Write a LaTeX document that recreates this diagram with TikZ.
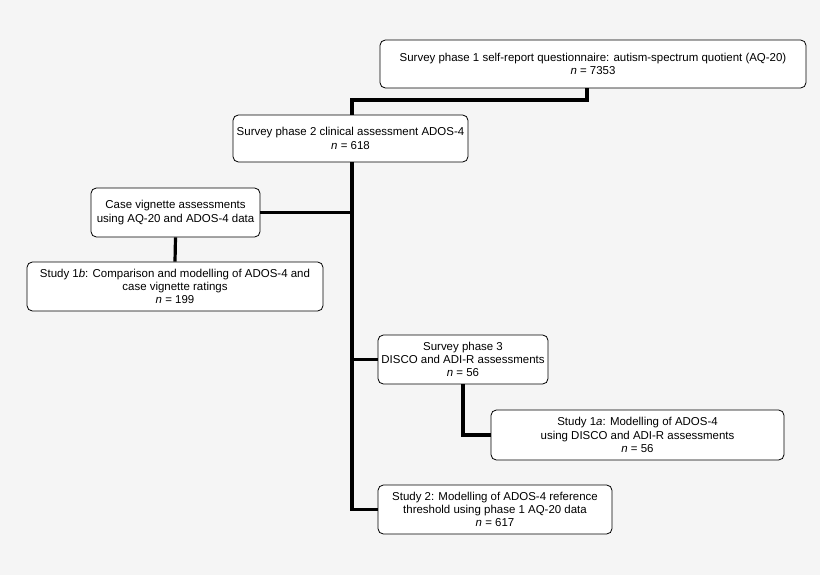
\documentclass[tikz,border=0pt]{standalone}
\usepackage{fontspec}
\setmainfont{Liberation Sans}
\begin{document}
\begin{tikzpicture}[x=0.75pt,y=-0.75pt,
  box/.style={draw=black,line width=0.6pt,fill=white,rounded corners=4pt,align=center,font=\fontsize{8.6}{10}\selectfont,inner sep=0pt},
  conn/.style={line width=2.4pt,line cap=butt}]
\fill[white!96!black] (0,0) rectangle (820,575);
\useasboundingbox (0,0) rectangle (820,575);
\node[box,minimum width=426*0.75pt,minimum height=48*0.75pt] (p1) at (593,64) {Survey phase 1 self-report questionnaire: autism-spectrum quotient (AQ-20)\\ \textit{n} = 7353};
\node[box,minimum width=235*0.75pt,minimum height=47*0.75pt] (p2) at (350.5,138.5) {Survey phase 2 clinical assessment ADOS-4\\ \textit{n} = 618};
\node[box,minimum width=169*0.75pt,minimum height=49*0.75pt] (cv) at (175.5,212.5) {Case vignette assessments\\ using AQ-20 and ADOS-4 data};
\node[box,minimum width=296*0.75pt,minimum height=49*0.75pt] (s1b) at (175,286.5) {Study 1\textit{b}: Comparison and modelling of ADOS-4 and\\ case vignette ratings\\ \textit{n} = 199};
\node[box,minimum width=170*0.75pt,minimum height=49*0.75pt] (p3) at (463,359.5) {Survey phase 3\\ DISCO and ADI-R assessments\\ \textit{n} = 56};
\node[box,minimum width=293*0.75pt,minimum height=50*0.75pt] (s1a) at (637.5,435) {Study 1\textit{a}: Modelling of ADOS-4\\ using DISCO and ADI-R assessments\\ \textit{n} = 56};
\node[box,minimum width=234*0.75pt,minimum height=49*0.75pt] (s2) at (495,509.5) {Study 2: Modelling of ADOS-4 reference\\ threshold using phase 1 AQ-20 data\\ \textit{n} = 617};
\coordinate (j1) at (587,100);
\coordinate (j2) at (352,100);
\draw[conn] (p1.south -| j1) -- (j1) -- (j2) -- (j2 |- p2.north);
\draw[conn] (p2.south -| j2) |- (s2.west);
\draw[conn] (cv.east) -- (cv.east -| j2);
\draw[conn] (p3.west -| j2) -- (p3.west);
\draw[conn] (cv.south) -- (s1b.north);
\draw[conn] (p3.south) |- (s1a.west);
\end{tikzpicture}
\end{document}
